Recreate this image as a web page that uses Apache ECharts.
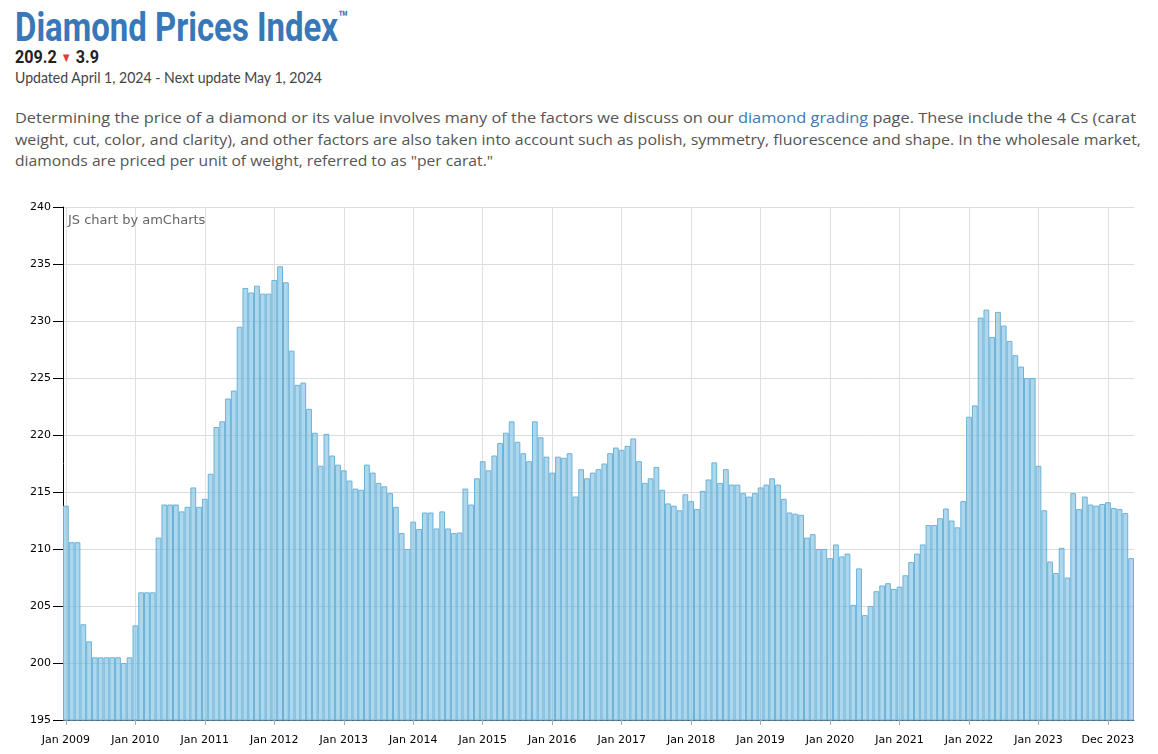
<!DOCTYPE html>
<html><head><meta charset="utf-8">
<script src="https://cdn.jsdelivr.net/npm/echarts@6/dist/echarts.min.js"></script>
<style>
html,body{margin:0;padding:0;background:#fff;width:1158px;height:754px;overflow:hidden}
.t{position:absolute;white-space:nowrap;transform-origin:0 0;margin:0}
#title{left:15px;top:8px;font:700 40px Roboto;color:#3878b8;line-height:40px}
#title sup{font-size:19px;vertical-align:top;position:relative;top:0px;line-height:19px}
#price{left:15px;top:47px;font:700 19px Roboto;color:#222;line-height:19px}
#tri{color:#d9403a;font-size:13px;position:relative;top:-1px}
#upd{left:15px;top:69px;font:400 15px Lato;color:#444;line-height:16px}
.p{left:15px;font:400 15px 'Open Sans';color:#555;line-height:18px}
.p a{color:#4078b4;text-decoration:none}
#chart{position:absolute;left:0;top:190px;width:1158px;height:564px}
</style></head><body>
<div class="t" id="title" data-w="333">Diamond Prices Index<sup>™</sup></div>
<div class="t" id="price" data-w="84">209.2 <span id="tri">▼</span> 3.9</div>
<div class="t" id="upd" data-w="307">Updated April 1, 2024 - Next update May 1, 2024</div>
<div class="t p" style="top:108px" data-w="1121">Determining the price of a diamond or its value involves many of the factors we discuss on our <a>diamond grading</a> page. These include the 4 Cs (carat</div>
<div class="t p" style="top:130px" data-w="1126">weight, cut, color, and clarity), and other factors are also taken into account such as polish, symmetry, fluorescence and shape. In the wholesale market,</div>
<div class="t p" style="top:151px" data-w="478">diamonds are priced per unit of weight, referred to as "per carat."</div>
<div id="chart"></div>
<script>
// ---- data ----
const startYear = 2009;
const monthNames = ['Jan','Feb','Mar','Apr','May','Jun','Jul','Aug','Sep','Oct','Nov','Dec'];
const values2009 = [213.8, 210.6, 210.6, 203.4, 201.9, 200.5, 200.5, 200.5, 200.5, 200.5, 200.0, 200.5];
const values2010 = [203.3, 206.2, 206.2, 206.2, 211.0, 213.9, 213.9, 213.9, 213.3, 213.7, 215.4, 213.7];
const values2011 = [214.4, 216.6, 220.7, 221.2, 223.2, 223.9, 229.5, 232.9, 232.5, 233.1, 232.4, 232.4];
const values2012 = [233.6, 234.8, 233.4, 227.4, 224.4, 224.6, 222.3, 220.2, 217.3, 220.1, 218.2, 217.4];
const values2013 = [216.9, 216.0, 215.3, 215.2, 217.4, 216.7, 215.8, 215.5, 214.9, 213.7, 211.4, 210.0];
const values2014 = [212.4, 211.75, 213.2, 213.2, 211.8, 213.3, 211.8, 211.4, 211.45, 215.3, 213.9, 216.2];
const values2015 = [217.7, 216.9, 218.2, 219.3, 220.2, 221.2, 219.4, 218.4, 217.7, 221.2, 219.8, 218.1];
const values2016 = [216.7, 218.1, 218.0, 218.4, 214.6, 217.0, 216.2, 216.7, 217.0, 217.5, 218.4, 218.9];
const values2017 = [218.7, 219.05, 219.7, 217.7, 215.8, 216.2, 217.2, 215.2, 214.0, 213.8, 213.4, 214.8];
const values2018 = [214.2, 213.5, 215.1, 216.1, 217.6, 215.8, 217.0, 215.65, 215.65, 214.9, 214.6, 214.9];
const values2019 = [215.4, 215.65, 216.2, 215.65, 214.4, 213.2, 213.1, 213.0, 211.0, 211.3, 210.0, 210.0];
const values2020 = [209.2, 210.4, 209.35, 209.6, 205.1, 208.3, 204.2, 205.0, 206.3, 206.8, 207.0, 206.5];
const values2021 = [206.7, 207.7, 208.85, 209.6, 210.4, 212.1, 212.1, 212.7, 213.55, 212.5, 211.9, 214.2];
const values2022 = [221.6, 222.6, 230.3, 231.0, 228.6, 230.8, 229.6, 228.25, 227.0, 226.0, 225.0, 225.0];
const values2023 = [217.3, 213.4, 208.9, 207.9, 210.1, 207.5, 214.9, 213.5, 214.6, 213.9, 213.8, 213.95];
const values2024 = [214.1, 213.6, 213.5, 213.15, 209.2];

const tickLabels = ['Jan 2009','Jan 2010','Jan 2011','Jan 2012','Jan 2013','Jan 2014','Jan 2015','Jan 2016',
  'Jan 2017','Jan 2018','Jan 2019','Jan 2020','Jan 2021','Jan 2022','Jan 2023','Dec 2023'];
const tickIndices = [0,12,24,36,48,60,72,84,96,108,120,132,144,156,168,180];
const yTicks = {min:195, max:240, step:5};

const values = [].concat(values2009, values2010, values2011, values2012, values2013, values2014,
  values2015, values2016, values2017, values2018, values2019, values2020, values2021, values2022,
  values2023, values2024);
const categories = values.map((_, i) => monthNames[i % 12] + ' ' + (startYear + Math.floor(i / 12)));

// ---- header fitting ----
document.querySelectorAll('.t[data-w]').forEach(el => {
  const w = el.getBoundingClientRect().width;
  const target = +el.dataset.w;
  el.style.transform = 'scaleX(' + (target / w) + ')';
});

// ---- chart ----
const labelMap = {};
tickIndices.forEach((idx, k) => { labelMap[idx] = tickLabels[k]; });
const isTick = (i) => Object.prototype.hasOwnProperty.call(labelMap, i);

const chart = echarts.init(document.getElementById('chart'), null, {renderer: 'canvas'});
chart.setOption({
  animation: false,
  grid: {left: 63, right: 24, top: 17, bottom: 34},
  xAxis: {
    type: 'category', data: categories, boundaryGap: true,
    axisLine: {show: true, lineStyle: {color: '#3c556b', width: 1}},
    axisTick: {show: true, alignWithLabel: true, interval: isTick, length: 5, lineStyle: {color: '#aaaaaa'}},
    axisLabel: {interval: isTick, formatter: (v, i) => labelMap[i] || '', color: '#000',
      fontFamily: 'DejaVu Sans', fontSize: 11, margin: 15, hideOverlap: false},
    splitLine: {show: true, interval: isTick, alignWithLabel: true, lineStyle: {color: '#e0e0e0', width: 1}}
  },
  yAxis: {
    type: 'value', min: yTicks.min, max: yTicks.max, interval: yTicks.step,
    axisLine: {show: true, lineStyle: {color: '#000', width: 1}},
    axisTick: {show: true, length: 10, lineStyle: {color: '#000'}},
    axisLabel: {color: '#000', fontFamily: 'DejaVu Sans', fontSize: 11, margin: 12},
    splitLine: {show: true, lineStyle: {color: '#dcdcdc', width: 1}}
  },
  graphic: [{
    type: 'text', left: 68, top: 24, z: 100,
    style: {text: 'JS chart by amCharts', fill: '#666', font: '13px "DejaVu Sans"'}
  }],
  series: [{
    type: 'bar', data: values, barCategoryGap: '0%', barGap: '0%',
    itemStyle: {color: 'rgba(103,183,220,0.55)', borderColor: '#6db2d8', borderWidth: 1}
  }]
});
</script>
</body></html>
